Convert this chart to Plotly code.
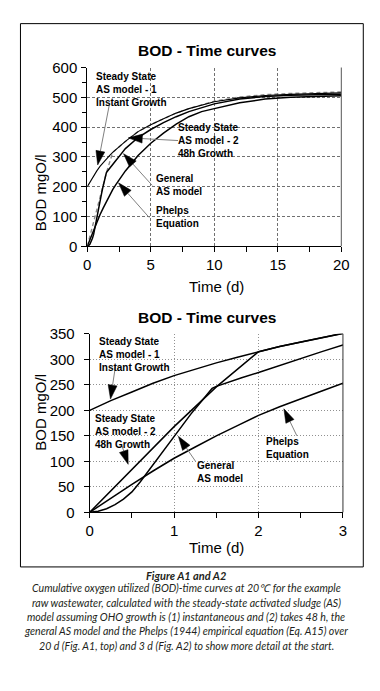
import math
import plotly.graph_objects as go

# ---------------- data ----------------
# Steady-state AS model 1 (instant growth)
t_ss1 = [0, 0.25, 0.5, 0.75, 1, 1.25, 1.5, 1.75, 2, 2.25, 2.5, 2.75, 3, 4, 5, 6, 7, 8, 10, 12, 14, 16, 18, 20]
bod_ss1 = [200, 219, 236, 253, 268, 281, 293, 304, 315, 325, 334, 343, 352, 385, 408, 428, 447, 462, 485, 498, 506, 510, 513, 515]
# Steady-state AS model 2 (48 h growth)
t_ss2 = [0, 0.5, 1, 1.5, 2, 2.25, 2.5, 2.75, 3, 4, 5, 6, 7, 8, 10, 12, 14, 16, 18, 20]
bod_ss2 = [0, 85, 168, 246, 315, 325, 334, 343, 352, 385, 408, 428, 447, 462, 487, 501, 509, 513, 516, 518]
# General AS model
t_gen = [0, 0.1, 0.2, 0.3, 0.4, 0.5, 0.6, 0.7, 0.8, 0.9, 1.0, 1.1, 1.2, 1.3, 1.4, 1.45, 1.5, 1.55, 1.6,
         1.8, 2.0, 2.25, 2.5, 2.75, 3, 4, 5, 6, 7, 8, 10, 12, 14, 16, 18, 20]
bod_gen = [0, 2, 7, 15, 26, 40, 60, 82, 105, 128, 150, 172, 193, 213, 234, 243, 247, 250, 253,
           264, 274, 288, 301, 315, 328, 365, 392, 415, 435, 452, 478, 494, 503, 507, 509, 510]
# Phelps equation
t_phelps = [0, 0.25, 0.5, 0.75, 1, 1.25, 1.5, 1.75, 2, 2.25, 2.5, 2.75, 3, 4, 5, 6, 7, 8, 9, 10, 12, 14, 16, 18, 20]
bod_phelps = [0, 28, 55, 81, 106, 128, 150, 170, 190, 207, 223, 238, 253, 305, 346, 380, 410, 435, 452, 462, 482, 494, 500, 503, 505]

title_text = "BOD - Time curves"
y_title = "BOD mgO/l"
x_title = "Time (d)"
top_xticks = [0, 5, 10, 15, 20]
top_yticks = [0, 100, 200, 300, 400, 500, 600]
bot_xticks = [0, 1, 2, 3]
bot_yticks = [0, 50, 100, 150, 200, 250, 300, 350]

lab_ss1 = "Steady State<br>AS model - 1<br>Instant Growth"
lab_ss2 = "Steady State<br>AS model - 2<br>48h Growth"
lab_gen = "General<br>AS model"
lab_phe = "Phelps<br>Equation"

caption_head = "Figure A1 and A2"
caption_lines = [
    "Cumulative oxygen utilized (BOD)-time curves at 20\u2103 for the example",
    "raw wastewater, calculated with the steady-state activated sludge (AS)",
    "model assuming OHO growth is (1) instantaneous and (2) takes 48 h, the",
    "general AS model and the Phelps (1944) empirical equation (Eq. A15) over",
    "20 d (Fig. A1, top) and 3 d (Fig. A2) to show more detail at the start.",
]

# ---------------- layout helpers ----------------
W, H = 380, 691
def px(x):
    return x / W
def py(y):
    return 1 - y / H

FONT = "Liberation Sans, Arial, sans-serif"
fig = go.Figure()

# top panel traces
fig.add_trace(go.Scatter(x=t_ss2, y=bod_ss2, mode="lines", line=dict(color="#8a8a8a", width=1.4, dash="4px,3px"),
                         xaxis="x", yaxis="y", showlegend=False))
fig.add_trace(go.Scatter(x=t_ss1, y=bod_ss1, mode="lines", line=dict(color="black", width=1.1),
                         xaxis="x", yaxis="y", showlegend=False))
fig.add_trace(go.Scatter(x=t_gen, y=bod_gen, mode="lines", line=dict(color="black", width=1.5),
                         xaxis="x", yaxis="y", showlegend=False))
fig.add_trace(go.Scatter(x=t_phelps, y=bod_phelps, mode="lines", line=dict(color="black", width=1.5),
                         xaxis="x", yaxis="y", showlegend=False))
# bottom panel traces
for tx, ty in [(t_ss1, bod_ss1), (t_ss2, bod_ss2), (t_gen, bod_gen), (t_phelps, bod_phelps)]:
    fig.add_trace(go.Scatter(x=tx, y=ty, mode="lines", line=dict(color="black", width=1.5),
                             xaxis="x2", yaxis="y2", showlegend=False))

tickfont = dict(family=FONT, size=15, color="black")
common_axis = dict(showline=True, linecolor="black", linewidth=1, zeroline=False,
                   ticks="outside", ticklen=5, tickcolor="black", tickfont=tickfont)

fig.update_layout(
    width=W, height=H, autosize=False,
    margin=dict(l=0, r=0, t=0, b=0),
    paper_bgcolor="white", plot_bgcolor="white",
    hovermode=False,
    xaxis=dict(domain=[px(86), px(348.3)], range=[0, 20], tickvals=top_xticks, anchor="y",
               showgrid=True, gridcolor="#707070", griddash="3px,2px", gridwidth=1,
               minor=dict(dtick=2.5, ticks="outside", ticklen=5, tickcolor="black", showgrid=False),
               ticklabelstandoff=0, **common_axis),
    yaxis=dict(domain=[py(243.3), py(60)], range=[0, 600], tickvals=top_yticks, anchor="x",
               showgrid=True, gridcolor="#707070", griddash="3px,2px", gridwidth=1,
               minor=dict(dtick=50, ticks="outside", ticklen=4, tickcolor="black", showgrid=False),
               ticklabelstandoff=1, **common_axis),
    xaxis2=dict(domain=[px(88.5), px(350)], range=[0, 3], tickvals=bot_xticks, anchor="y2",
                showgrid=True, gridcolor="#909090", griddash="1px,2px", gridwidth=1,
                minor=dict(dtick=0.5, ticks="outside", ticklen=5, tickcolor="black", showgrid=False),
                ticklabelstandoff=0, **common_axis),
    yaxis2=dict(domain=[py(516), py(333)], range=[0, 350], tickvals=bot_yticks, anchor="x2",
                showgrid=True, gridcolor="#909090", griddash="1px,2px", gridwidth=1,
                ticklabelstandoff=6, **common_axis),
)

shapes = []
# outer frame
shapes.append(dict(type="rect", xref="paper", yref="paper", x0=px(17), x1=px(371), y0=py(572), y1=py(15),
                   line=dict(color="black", width=1), fillcolor="rgba(0,0,0,0)", layer="above"))
# right edges of the plot areas
for xr, yr, col in [("x domain", "y domain", "#555555"), ("x2 domain", "y2 domain", "#333333")]:
    shapes.append(dict(type="line", xref=xr, yref=yr, x0=1, x1=1, y0=0, y1=1,
                       line=dict(color=col, width=1), layer="above"))

# pointer arrows: tip in data coords, tail offset in screen pixels (dx right, dy down)
def pointer(xr, yr, tx, ty, dx, dy, head_len=14, head_half=4.5):
    L = math.hypot(dx, dy)
    ux, uy = -dx / L, -dy / L  # direction tail->tip (screen)
    bx, by = -ux * head_len, -uy * head_len  # base centre rel. to tip
    pxn, pyn = -uy, ux
    c1 = (bx + pxn * head_half, by + pyn * head_half)
    c2 = (bx - pxn * head_half, by - pyn * head_half)
    out = []
    out.append(dict(type="line", xref=xr, yref=yr, xsizemode="pixel", ysizemode="pixel",
                    xanchor=tx, yanchor=ty, x0=dx, y0=-dy, x1=bx, y1=-by,
                    line=dict(color="#808080", width=1), layer="above"))
    path = "M 0 0 L {:.2f} {:.2f} L {:.2f} {:.2f} Z".format(c1[0], -c1[1], c2[0], -c2[1])
    out.append(dict(type="path", xref=xr, yref=yr, xsizemode="pixel", ysizemode="pixel",
                    xanchor=tx, yanchor=ty, path=path, fillcolor="black",
                    line=dict(color="black", width=0.5), layer="above"))
    return out

# top panel pointers
shapes += pointer("x", "y", 0.82, 273, 11.6, -60)
shapes += pointer("x", "y", 3.23, 364, 49.7, 2.7)
shapes += pointer("x", "y", 2.85, 311, 28.7, 31.7)
shapes += pointer("x", "y", 2.46, 213, 30.7, 34.7)
# bottom panel pointers
shapes += pointer("x2", "y2", 0.246, 222, 5, -33)
shapes += pointer("x2", "y2", 0.456, 94, -6.3, -18.7)
shapes += pointer("x2", "y2", 1.05, 149, 17, 24.7)
shapes += pointer("x2", "y2", 2.3, 203, 13, 27)
fig.update_layout(shapes=shapes)

ann = []
def label(text, x, y, size=10, bold=True, xanchor="left", color="black", family=FONT, angle=0):
    t = "<b>" + text + "</b>" if bold else text
    ann.append(dict(text=t, x=px(x), y=py(y), xref="paper", yref="paper", xanchor=xanchor,
                    yanchor="middle", showarrow=False, align="left" if xanchor == "left" else "center",
                    textangle=angle, font=dict(family=family, size=size, color=color)))

# titles
label(title_text, 210, 43, size=15.5, xanchor="center")
label(title_text, 210, 316.7, size=15.5, xanchor="center")
label(y_title, 38, 188, size=15, bold=False, xanchor="center", angle=-90)
label(y_title, 38, 413, size=15, bold=False, xanchor="center", angle=-90)
label(x_title, 219, 284, size=15, bold=False, xanchor="center")
label(x_title, 219, 552.5, size=15, bold=False, xanchor="center")
# curve labels top
label(lab_ss1, 93, 83)
label(lab_ss2, 178, 135)
label(lab_gen, 155, 180.7)
label(lab_phe, 155, 213.3)
# curve labels bottom
label(lab_ss1, 96.5, 354)
label(lab_ss2, 91.5, 433)
label(lab_gen, 197, 475)
label(lab_phe, 268, 450)
# caption
CAP = "Lato, Open Sans, sans-serif"
label("<i>" + caption_head + "</i>", 188, 580.5, size=11, bold=True, xanchor="center", color="#231f20", family=CAP)
cap_y = [594, 608.8, 623.5, 638.2, 652.9]
for line, yy in zip(caption_lines, cap_y):
    label("<i>" + line + "</i>", 188, yy, size=10.6, bold=False, xanchor="center",
          color="#231f20", family=CAP)

fig.update_layout(annotations=ann)
fig.write_html("out.html", config={"displayModeBar": False, "staticPlot": True},
               post_script="document.body.style.margin='0px';")
